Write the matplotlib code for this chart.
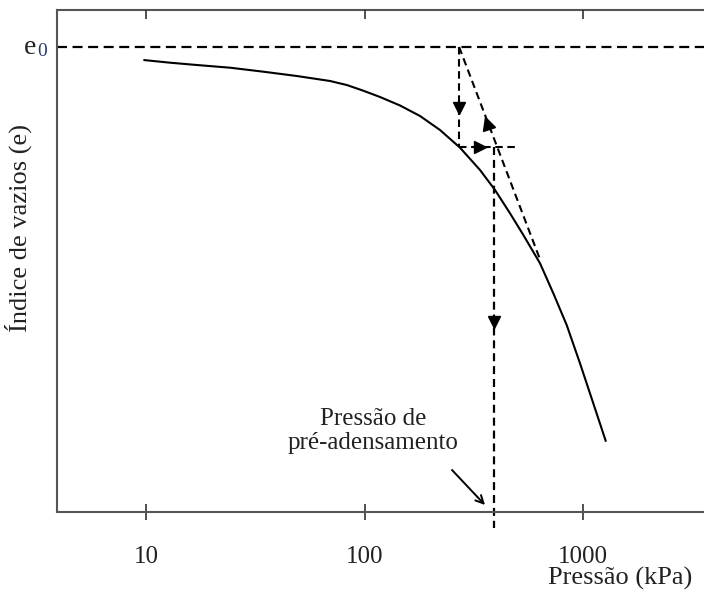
import matplotlib
matplotlib.use("Agg")
import matplotlib.pyplot as plt
from matplotlib.markers import MarkerStyle
from matplotlib.transforms import Affine2D

plt.rcParams['font.family'] = ['Liberation Serif', 'DejaVu Serif']

# curva de compressao (pressao em kPa, indice de vazios)
pressao = [9.72, 12.88, 17.06, 24.24, 34.43, 48.95, 69.53, 82.9, 98.7, 117.7,
           145.4, 179.5, 221.6, 273.6, 337.8, 395.7, 463.4, 533.3, 635.8, 731.5,
           842.1, 969, 1114.6, 1274.5]
indice = [0.974, 0.9686, 0.964, 0.9586, 0.9506, 0.942, 0.932, 0.924, 0.9126, 0.900,
          0.883, 0.862, 0.834, 0.7986, 0.754, 0.714, 0.6674, 0.624, 0.5674, 0.5074,
          0.444, 0.3674, 0.2874, 0.2106]

e0 = 1.0
p_curv = 271      # ponto de maior curvatura
e_curv = 0.80
p_horiz_fim = 500
p_virgem = [271, 640]   # prolongamento da reta virgem
e_virgem = [1.0, 0.572]
p_pre = 392       # pressao de pre-adensamento
e_pre_fim = 0.038

xticks = [10, 100, 1000]
xtick_labels = ["10", "100", "1000"]

cor_texto = "#222222"
tracejado = (0, (3.6, 2.2))

fig = plt.figure(figsize=(7.04, 5.92), dpi=100)
ax = fig.add_axes([57 / 704, 1 - 512 / 592, 1 - 57 / 704, (512 - 10) / 592])
ax.set_xscale("log")
ax.set_xlim(3.91, 3581)
ax.set_ylim(0.07, 1.074)

ax.plot(pressao, indice, color="black", lw=1.5, solid_capstyle="butt")

# linhas de construcao
ax.axhline(e0, color="black", lw=1.6, linestyle=(0, (4.5, 2.5)))
ax.plot([p_curv, p_curv], [e0, e_curv], color="black", lw=1.5, linestyle=tracejado)
ax.plot([p_curv, p_horiz_fim], [e_curv, e_curv], color="black", lw=1.5, linestyle=tracejado)
ax.plot(p_virgem, e_virgem, color="black", lw=1.5, linestyle=tracejado)
ax.plot([p_pre, p_pre], [e_curv, e_pre_fim], color="black", lw=1.6, linestyle=tracejado,
        clip_on=False)

# setas (triangulos)
ax.plot(p_curv, 0.878, marker="v", color="black", ms=9)
ax.plot(338, e_curv, marker=">", color="black", ms=9)
ax.plot(p_pre, 0.45, marker="v", color="black", ms=9)
m = MarkerStyle("^", transform=Affine2D().rotate_deg(20.6))
ax.plot(364, 0.848, marker=m, color="black", ms=9, linestyle="none")

ax.text(109.4, 0.232, "Pressão de\npré-adensamento", ha="center", va="center",
        fontsize=18, color=cor_texto, linespacing=1.15)
ax.annotate("", xy=(356, 0.084), xytext=(251.5, 0.154),
            arrowprops=dict(arrowstyle="->", color="black", lw=1.4,
                            shrinkA=0, shrinkB=0, mutation_scale=14))

for lado in ["left", "top", "bottom"]:
    ax.spines[lado].set_color("#555555")
    ax.spines[lado].set_linewidth(1.5)
ax.spines["right"].set_visible(False)

ax.set_xticks(xticks)
ax.set_xticklabels(xtick_labels)
ax.minorticks_off()
ax.tick_params(axis="x", which="major", direction="inout", length=11, width=1.2,
               color="#333333", labelsize=18, labelcolor=cor_texto, pad=19)
ax.set_yticks([])

# ticks de cima, para dentro
ax_topo = ax.twiny()
ax_topo.set_xscale("log")
ax_topo.set_xlim(ax.get_xlim())
ax_topo.set_xticks(xticks)
ax_topo.set_xticklabels([])
ax_topo.minorticks_off()
ax_topo.tick_params(axis="x", direction="in", length=6.5, width=1.2, color="#333333")
for s in ax_topo.spines.values():
    s.set_visible(False)

fig.text(36 / 704, 1 - 47 / 592, "e", ha="right", va="center", fontsize=20,
         color=cor_texto)
fig.text(37 / 704, 1 - 52 / 592, "0", ha="left", va="center", fontsize=14,
         color="#2a3a6a")
fig.text(18 / 704, 1 - 228 / 592, "Índice de vazios (e)", rotation=90,
         ha="center", va="center", fontsize=19, color=cor_texto)
fig.text(620 / 704, 1 - 578 / 592, "Pressão (kPa)", ha="center", va="center",
         fontsize=19, color=cor_texto)

fig.savefig("out.png", dpi=100)
